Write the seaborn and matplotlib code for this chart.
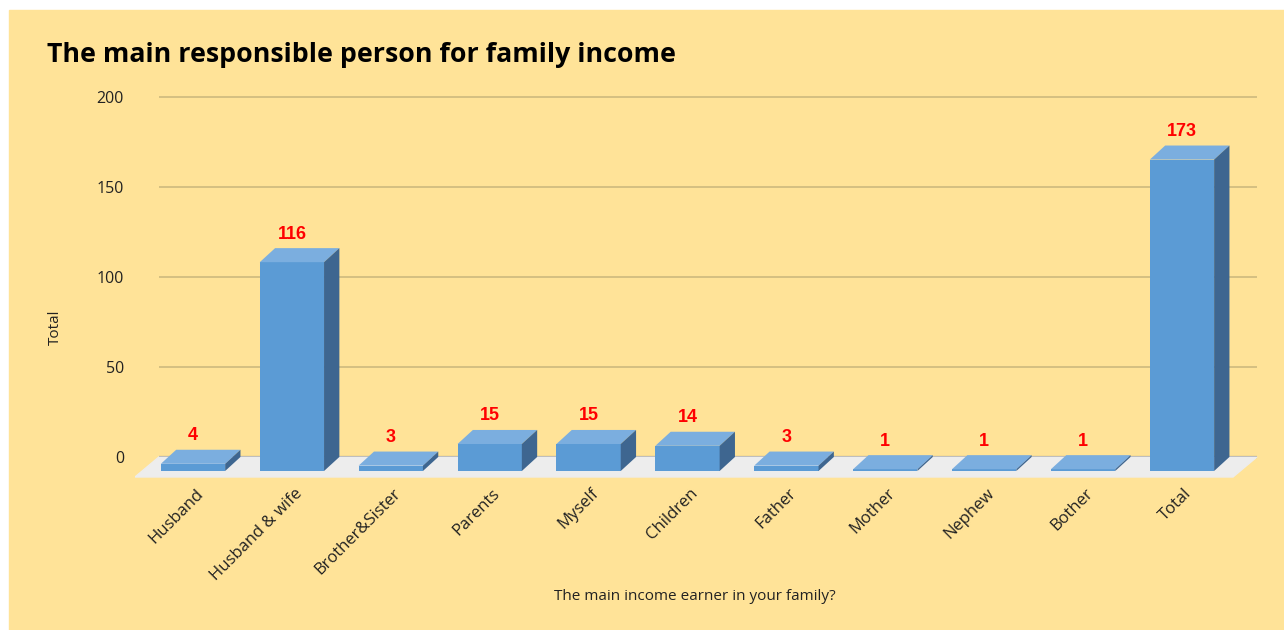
import matplotlib
matplotlib.use('Agg')
import matplotlib.pyplot as plt
import matplotlib.transforms as mtransforms
from matplotlib.patches import Polygon, Rectangle
import seaborn as sns
import numpy as np

# data
earners = ['Husband', 'Husband & wife', 'Brother&Sister', 'Parents', 'Myself',
           'Children', 'Father', 'Mother', 'Nephew', 'Bother', 'Total']
counts = [4, 116, 3, 15, 15, 14, 3, 1, 1, 1, 173]
y_ticks = [0, 50, 100, 150, 200]

# colours
bg = '#FFE398'
front_col = '#5B9BD5'
top_col = '#7BAEDF'
side_col = '#3E6690'
floor_col = '#EDEDED'
grid_col = '#CDB97E'

# fake 3d depth (in data units)
DX, DY = 0.155, 7.8

sns.set_style('white')
plt.rcParams['font.family'] = ['Open Sans', 'DejaVu Sans']

fig = plt.figure(figsize=(12.84, 6.30), dpi=100, facecolor='white')
fig.patches.append(Rectangle((9 / 1284, 0), 1 - 9 / 1284, 620 / 630,
                             transform=fig.transFigure, color=bg, zorder=-5))

W, H = 1284, 630
ax = fig.add_axes([135 / W, (630 - 480) / H, (1270 - 135) / W, 400 / H])
ax.set_facecolor('none')

n = len(earners)

# floor
fl, fr, fdx, fy = -0.5865, n - 1 + 0.516, 0.242, -3.33
ax.add_patch(Polygon([(fl, fy), (fr, fy), (fr + fdx, DY), (fl + fdx, DY)],
                     closed=True, color=floor_col, zorder=1))

# back wall gridlines
ticks = np.array(y_ticks)
ax.hlines(ticks[1:] + DY, fl + fdx, fr + fdx, color=grid_col, lw=1.2, zorder=0.5)
ax.hlines(DY, fl + fdx, fr + fdx, color='#333333', lw=1.5, zorder=0.8)

sns.barplot(x=earners, y=counts, color=front_col, saturation=1, width=0.65,
            linewidth=0, ax=ax, zorder=3)

for bar, v in zip(ax.containers[0], counts):
    x0 = bar.get_x()
    w = bar.get_width()
    h = bar.get_height()
    top = Polygon([(x0, h), (x0 + w, h), (x0 + w + DX, h + DY), (x0 + DX, h + DY)],
                  closed=True, facecolor=top_col, edgecolor='none', zorder=3)
    side = Polygon([(x0 + w, 0), (x0 + w + DX, DY), (x0 + w + DX, h + DY), (x0 + w, h)],
                   closed=True, facecolor=side_col, edgecolor='none', zorder=3)
    ax.add_patch(top)
    ax.add_patch(side)
    ax.annotate(str(v), (x0 + w / 2, h + DY), xytext=(0, 4), textcoords='offset points',
                ha='center', va='bottom', color='#FF0000', fontsize=13,
                fontweight='bold', family=['Liberation Sans', 'DejaVu Sans'])

# limits after seaborn, which resets the categorical range
ax.set_xlim(-0.5865, n - 1 + 0.89)
ax.set_ylim(-5, 217.2)

ax.set_yticks(ticks + DY)
ax.set_yticklabels([str(t) for t in ticks], fontsize=11.5, color='#222222')
ax.tick_params(axis='y', length=0, pad=8)
ax.tick_params(axis='x', length=0, pad=4)
ax.set_xticks(range(n))
ax.set_xticklabels(earners, rotation=45, ha='right', va='top',
                   rotation_mode='anchor', fontsize=12, color='#222222')
offset = mtransforms.ScaledTranslation(0.02, 0, fig.dpi_scale_trans)
for lab in ax.get_xticklabels():
    lab.set_transform(lab.get_transform() + offset)

for s in ax.spines.values():
    s.set_visible(False)

ax.set_ylabel('Total', fontsize=11, color='#222222')
ax.yaxis.set_label_coords((63 - 135) / 1135, (480 - 327) / 400)
ax.set_xlabel('The main income earner in your family?', fontsize=11, color='#222222')
ax.xaxis.set_label_coords((695 - 135) / 1135, (480 - 589) / 400)

fig.text(47 / W, 1 - 55 / H, 'The main responsible person for family income',
         fontsize=19.3, fontweight='bold', ha='left', va='center', color='black')

fig.savefig('out.png', dpi=100, facecolor='white')
